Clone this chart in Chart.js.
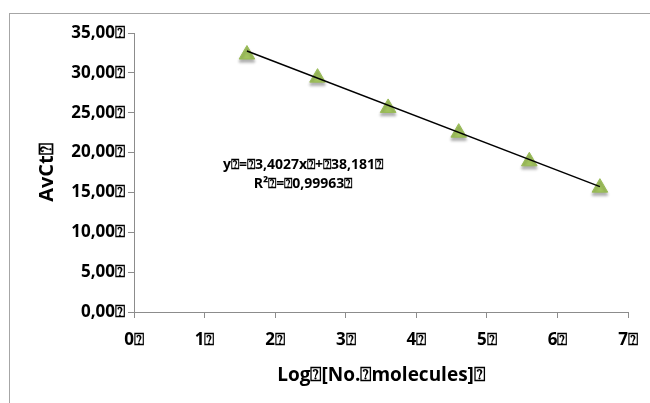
<!DOCTYPE html>
<html>
<head>
<meta charset="utf-8">
<script src="https://cdn.jsdelivr.net/npm/chart.js@4"></script>
<style>
  html, body { margin: 0; padding: 0; background: #fff; overflow: hidden; }
  #wrap { width: 650px; height: 403px; }
</style>
</head>
<body>
<div id="wrap"><canvas id="chart" width="650" height="403"></canvas></div>
<script>
// tofu glyph as it shows in the picture
const Q = "\u2370"

const logMolecules = [1.6, 2.6, 3.6, 4.6, 5.6, 6.6]
const avCt = [32.3, 29.4, 25.6, 22.5, 18.9, 15.6]

// linear trendline, as printed on the chart
const trendSlope = -3.4027
const trendIntercept = 38.181
const trendX = [1.6, 6.6]

const equationLines = [
  `y${Q}=${Q}3,4027x${Q}+${Q}38,181${Q}`,
  `R²${Q}=${Q}0,99963${Q}`,
]

const xTitle = `Log${Q}[No.${Q}molecules]${Q}`
const yTitle = `AvCt${Q}`

const FONT = "'Open Sans', sans-serif"
const AXIS = "#8c8c8c"

const frame = {
  id: "frame",
  beforeDraw: (chart) => {
    const { ctx } = chart
    ctx.save()
    ctx.fillStyle = "#fff"
    ctx.fillRect(0, 0, chart.width, chart.height)
    ctx.strokeStyle = "#a6a6a6"
    ctx.lineWidth = 1
    ctx.strokeRect(9.5, 13.5, 700, 500)
    ctx.restore()
  },
  afterDraw: (chart) => {
    const { ctx } = chart
    ctx.save()
    ctx.font = `bold 14px ${FONT}`
    ctx.fillStyle = "#000"
    ctx.textAlign = "center"
    ctx.textBaseline = "middle"
    ctx.fillText(equationLines[0], 303, 165)
    ctx.fillText(equationLines[1], 303, 184)
    ctx.restore()
  },
  beforeDatasetDraw: (chart, { index }) => {
    if (index !== 1) return
    const { ctx } = chart
    ctx.save()
    ctx.shadowColor = "rgba(0,0,0,0.3)"
    ctx.shadowBlur = 3
    ctx.shadowOffsetY = 3
  },
  afterDatasetDraw: (chart, { index }) => {
    if (index === 1) chart.ctx.restore()
  },
}

new Chart(document.getElementById("chart"), {
  type: "scatter",
  data: {
    datasets: [
      {
        label: "Trendline",
        data: trendX.map((x) => ({ x, y: trendSlope * x + trendIntercept })),
        showLine: true,
        borderColor: "#000",
        borderWidth: 1.5,
        pointRadius: 0,
      },
      {
        label: "AvCt",
        data: logMolecules.map((x, i) => ({ x, y: avCt[i] })),
        pointStyle: "triangle",
        pointRadius: 9,
        backgroundColor: "#a2c35f",
        borderColor: "#98bb55",
        borderWidth: 1,
      },
    ],
  },
  plugins: [frame],
  options: {
    responsive: false,
    animation: false,
    layout: { padding: { top: 33, right: 13, left: 0, bottom: 0 } },
    plugins: { legend: { display: false }, tooltip: { enabled: false } },
    scales: {
      x: {
        type: "linear",
        min: 0,
        max: 7,
        afterFit: (scale) => { scale.height = 91 },
        border: { color: AXIS, width: 1 },
        grid: { drawOnChartArea: false, drawTicks: true, tickLength: 6, color: AXIS },
        ticks: {
          stepSize: 1,
          padding: 12,
          color: "#000",
          font: { family: FONT, size: 17, weight: "bold" },
          callback: (v) => `${v}${Q}`,
        },
        title: {
          display: true,
          text: xTitle,
          color: "#000",
          font: { family: FONT, size: 19, weight: "bold" },
          padding: { top: 0, bottom: 16 },
        },
      },
      y: {
        min: 0,
        max: 35,
        afterFit: (scale) => { scale.width = 134 },
        border: { color: AXIS, width: 1 },
        grid: { drawOnChartArea: false, drawTicks: true, tickLength: 6, color: AXIS },
        ticks: {
          stepSize: 5,
          padding: 3,
          color: "#000",
          font: { family: FONT, size: 17, weight: "bold" },
          callback: (v) => `${v.toFixed(2).replace(".", ",")}${Q}`,
        },
        title: {
          display: true,
          text: yTitle,
          color: "#000",
          font: { family: FONT, size: 20, weight: "bold" },
          padding: { top: 35, bottom: 0 },
        },
      },
    },
  },
})
</script>
</body>
</html>
